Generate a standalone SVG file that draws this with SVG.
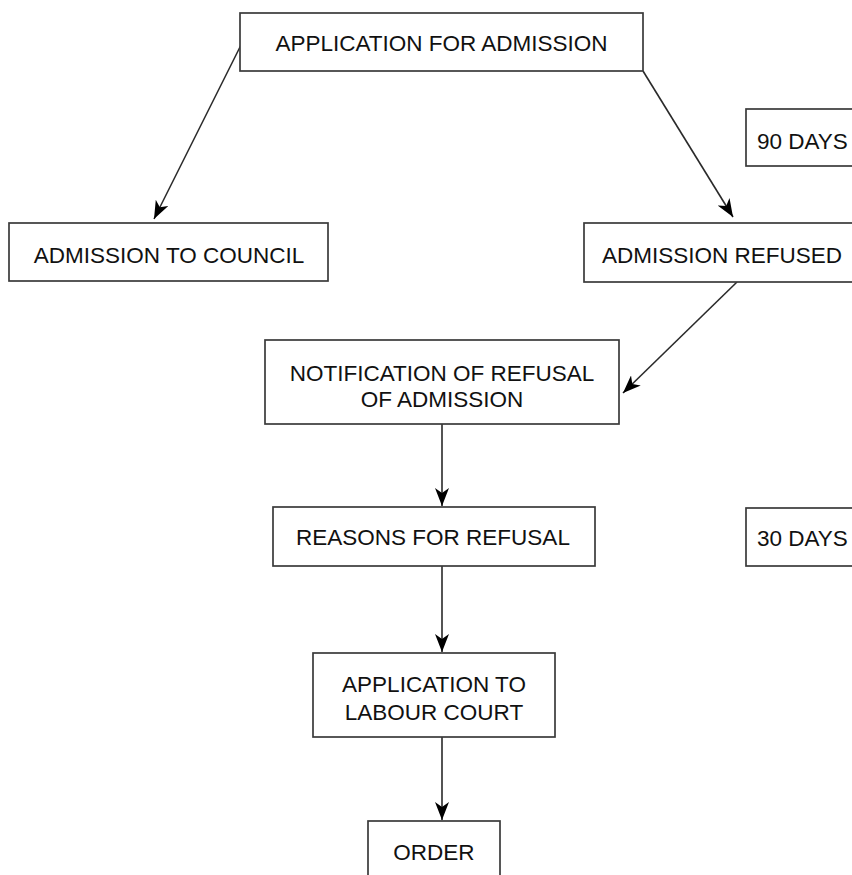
<svg xmlns="http://www.w3.org/2000/svg" width="852" height="875" viewBox="0 0 852 875">
<defs>
<style>
.box{fill:#fff;stroke:#3a3a3a;stroke-width:1.7}
.t{font-family:"Liberation Sans",Arial,sans-serif;font-size:22.5px;fill:#111;text-anchor:middle}
.tl{font-family:"Liberation Sans",Arial,sans-serif;font-size:22.5px;fill:#111}
.c{stroke:#2a2a2a;stroke-width:1.6;fill:none;marker-end:url(#ah)}
</style>
<marker id="ah" markerUnits="userSpaceOnUse" markerWidth="20" markerHeight="14" refX="18" refY="7" orient="auto">
<path d="M0,0 L18,7 L0,14 L5,7 z" fill="#000"/>
</marker>
</defs>
<rect width="852" height="875" fill="#fff"/>
<g id="connectors">
<line class="c" x1="241" y1="45" x2="154" y2="219"/>
<line class="c" x1="643" y1="71" x2="733" y2="217"/>
<line class="c" x1="737" y1="282" x2="623" y2="393"/>
<line class="c" x1="442" y1="424" x2="442" y2="506"/>
<line class="c" x1="442" y1="566" x2="442" y2="652"/>
<line class="c" x1="442" y1="737" x2="442" y2="820"/>
</g>
<g id="n1"><rect class="box" x="240" y="13" width="403" height="58"/><text class="t" x="441.5" y="51">APPLICATION FOR ADMISSION</text></g>
<g id="n2"><rect class="box" x="9" y="223" width="319" height="58"/><text class="t" x="169" y="263">ADMISSION TO COUNCIL</text></g>
<g id="n3"><rect class="box" x="584" y="223" width="290" height="59"/><text class="t" x="722" y="263">ADMISSION REFUSED</text></g>
<g id="n90"><rect class="box" x="746" y="109" width="130" height="57"/><text class="tl" x="757" y="149">90 DAYS</text></g>
<g id="n4"><rect class="box" x="265" y="340" width="354" height="84"/><text class="t" x="442" y="381">NOTIFICATION OF REFUSAL</text><text class="t" x="442" y="407">OF ADMISSION</text></g>
<g id="n5"><rect class="box" x="273" y="507" width="322" height="59"/><text class="t" x="433" y="545">REASONS FOR REFUSAL</text></g>
<g id="n30"><rect class="box" x="746" y="508" width="130" height="58"/><text class="tl" x="757" y="546">30 DAYS</text></g>
<g id="n6"><rect class="box" x="313" y="653" width="242" height="84"/><text class="t" x="434" y="692">APPLICATION TO</text><text class="t" x="434" y="720">LABOUR COURT</text></g>
<g id="n7"><rect class="box" x="368" y="821" width="132" height="70"/><text class="t" x="434" y="860">ORDER</text></g>
</svg>
